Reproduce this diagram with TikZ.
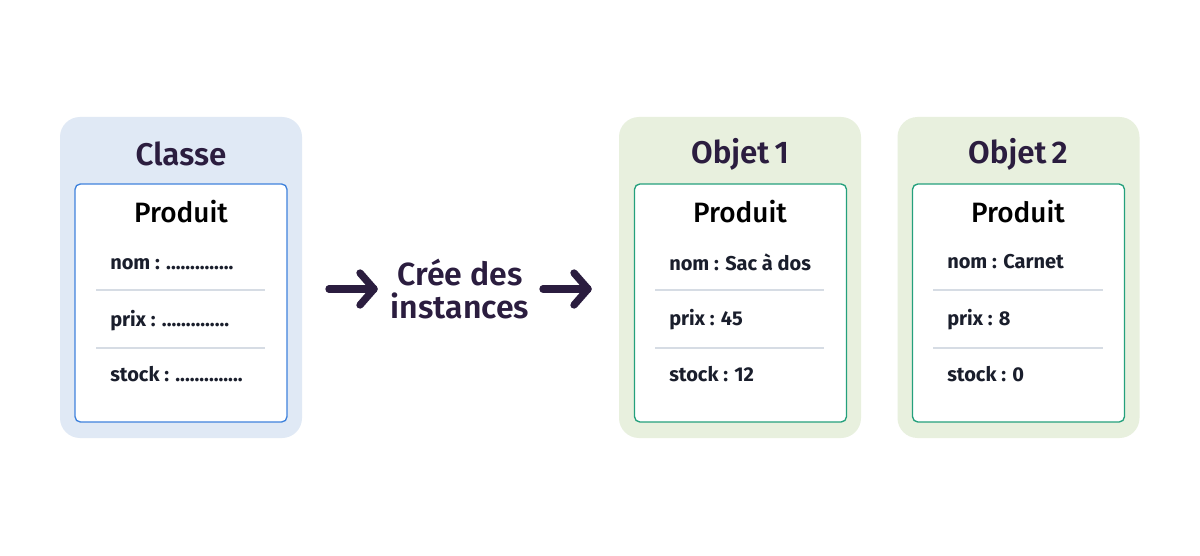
\documentclass[tikz,border=0pt]{standalone}
\usepackage{fontspec}
\setmainfont{Fira Sans}
\newfontfamily\semib{Fira Sans SemiBold}
\newfontfamily\medf{Fira Sans Medium}
\definecolor{titlecol}{HTML}{2B1D3F}
\definecolor{bluebg}{HTML}{E0E9F5}
\definecolor{greenbg}{HTML}{E8F0DE}
\definecolor{blueline}{HTML}{3F82DC}
\definecolor{greenline}{HTML}{24A07C}
\definecolor{sepcol}{HTML}{D6DCE4}
\definecolor{rowcol}{HTML}{1A1E2C}
\tikzset{
  outerbox/.style={rounded corners=15pt, minimum width=181.5pt, minimum height=240.75pt, inner sep=0pt},
  innerbox/.style={rounded corners=4pt, fill=white, line width=1pt, minimum width=159pt, minimum height=178.5pt, inner sep=0pt},
  titletext/.style={font=\fontsize{23.5}{27}\semib, text=titlecol, inner sep=0pt},
  headtext/.style={font=\fontsize{21}{25}\medf, text=black, inner sep=0pt},
  rowtext/.style={font=\fontsize{15}{18}\selectfont\bfseries, text=rowcol, anchor=west, inner sep=0pt},
  midtext/.style={font=\fontsize{24}{25}\semib, text=titlecol, align=center, inner sep=0pt},
  sep/.style={draw=sepcol, line width=0.8pt},
  arrowline/.style={draw=titlecol, line width=5.5pt, line cap=round, line join=round}
}
\begin{document}
\begin{tikzpicture}[x=0.75pt,y=-0.75pt]
\useasboundingbox[fill=white] (0,0) rectangle (1200,556);
% Classe
\node[outerbox, fill=bluebg] (cl) at (181,277.5) {};
\node[innerbox, draw=blueline] (cli) at (181,303) {};
\node[titletext] (clt) at (181,154) {Classe};
\node[headtext] (clh) at (181,212) {Produit};
\node[rowtext] (cl1) at (110,264) {nom : ..............};
\node[rowtext] (cl2) at (110,321) {prix : ..............};
\node[rowtext] (cl3) at (110,374) {stock : ..............};
\draw[sep] (96,290) -- (265,290);
\draw[sep] (96,348) -- (265,348);
% Objet 1
\node[outerbox, fill=greenbg] (o1) at (740,277.5) {};
\node[innerbox, draw=greenline] (o1i) at (740.5,303) {};
\node[titletext] (o1t) at (740,154) {Objet\,1};
\node[headtext] (o1h) at (740,212) {Produit};
\node[rowtext] (o11) at (669,262) {nom : Sac à dos};
\node[rowtext] (o12) at (669,320) {prix : 45};
\node[rowtext] (o13) at (669,374) {stock : 12};
\draw[sep] (655,290) -- (824,290);
\draw[sep] (655,348) -- (824,348);
% Objet 2
\node[outerbox, fill=greenbg] (o2) at (1018.5,277.5) {};
\node[innerbox, draw=greenline] (o2i) at (1018.5,303) {};
\node[titletext] (o2t) at (1018,154) {Objet\,2};
\node[headtext] (o2h) at (1018,212) {Produit};
\node[rowtext] (o21) at (947,262) {nom : Carnet};
\node[rowtext] (o22) at (947,320) {prix : 8};
\node[rowtext] (o23) at (947,374) {stock : 0};
\draw[sep] (933,290) -- (1103,290);
\draw[sep] (933,348) -- (1103,348);
% middle
\node[midtext] (mid) at (460,289) {Crée des\\instances};
\coordinate (a1s) at (329,289);
\coordinate (a1e) at (374,289);
\coordinate (a1t) at (360,273);
\coordinate (a1b) at (360,305);
\draw[arrowline] (a1s) -- (a1e);
\draw[arrowline] (a1t) -- (a1e) -- (a1b);
\coordinate (a2s) at (543,289);
\coordinate (a2e) at (588,289);
\coordinate (a2t) at (574,273);
\coordinate (a2b) at (574,305);
\draw[arrowline] (a2s) -- (a2e);
\draw[arrowline] (a2t) -- (a2e) -- (a2b);
\end{tikzpicture}
\end{document}
